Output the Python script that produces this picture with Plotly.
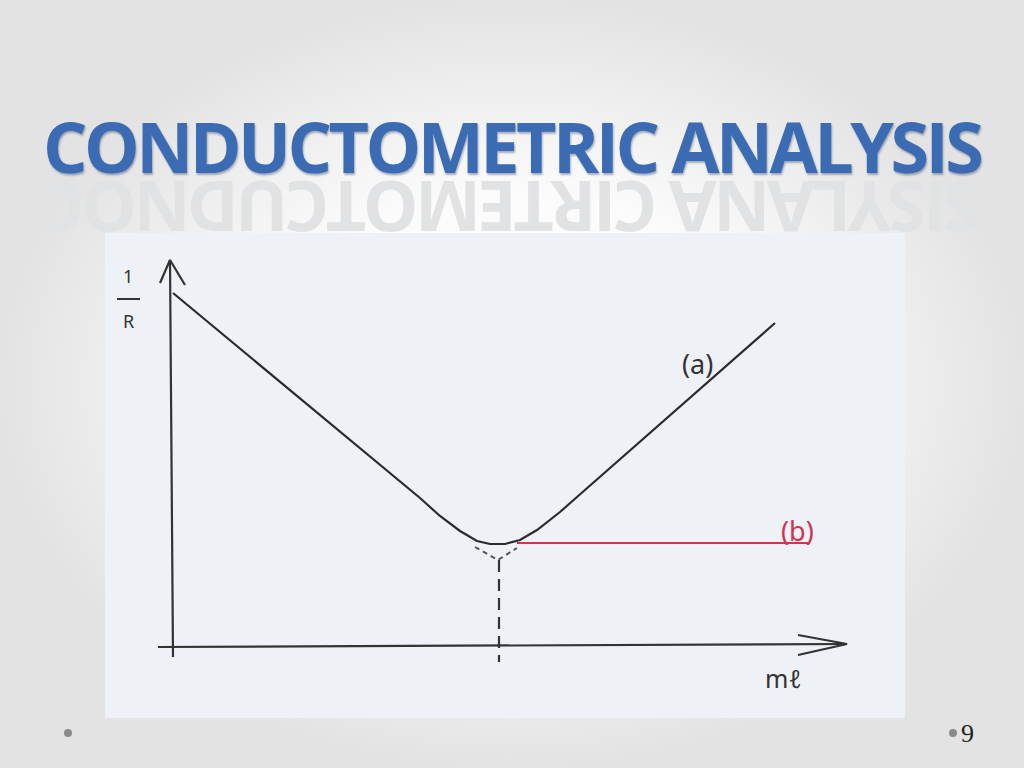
import plotly.graph_objects as go

# hand drawn titration curve (x = ml added, y = 1/R)
curve_a_x = [0, 4.94, 5.34, 5.74, 6.08, 6.34, 6.64, 6.94, 7.28, 7.74, 8.08, 12.04]
curve_a_y = [7.08, 2.98, 2.62, 2.32, 2.12, 2.06, 2.06, 2.14, 2.34, 2.70, 3.00, 6.48]

curve_b_x = [6.88, 12.74]
curve_b_y = [2.08, 2.08]

# extrapolated branches meeting below the minimum, and drop to the x axis
extrap_x = [6.04, 6.50, 6.88]
extrap_y = [2.00, 1.74, 1.98]
equiv_x = [6.52, 6.52]
equiv_y = [1.74, -0.30]

# hand drawn axes with arrow heads
yaxis_x = [0, -0.06]
yaxis_y = [-0.20, 7.74]
yarrow_x = [-0.26, -0.06, 0.24]
yarrow_y = [7.28, 7.74, 7.24]
xaxis_x = [-0.30, 13.48]
xaxis_y = [0, 0.06]
xarrow_x = [12.50, 13.48, 12.50]
xarrow_y = [0.24, 0.06, -0.16]

X_RANGE = [-1.36, 14.64]
Y_RANGE = [-1.42, 8.28]

TITLE = "CONDUCTOMETRIC ANALYSIS"

ink = "#2b2b2b"
red = "#cf3553"

fig = go.Figure()

# slide background (radial gradient) on its own full page axes
fig.add_trace(go.Scatter(x=[0, 1, 1, 0, 0], y=[0, 0, 1, 1, 0], mode="lines",
                         line=dict(width=0), fill="toself",
                         fillgradient=dict(type="radial",
                                           colorscale=[[0, "#ffffff"], [0.5, "#fbfbfb"], [1, "#e3e3e3"]]),
                         xaxis="x", yaxis="y", hoverinfo="skip"))

# scanned picture panel
fig.add_trace(go.Scatter(x=[X_RANGE[0], X_RANGE[1], X_RANGE[1], X_RANGE[0], X_RANGE[0]],
                         y=[Y_RANGE[0], Y_RANGE[0], Y_RANGE[1], Y_RANGE[1], Y_RANGE[0]],
                         mode="lines", line=dict(width=0), fill="toself", fillcolor="#eef2f6",
                         xaxis="x2", yaxis="y2", hoverinfo="skip"))

for xs, ys in [(yaxis_x, yaxis_y), (yarrow_x, yarrow_y), (xaxis_x, xaxis_y), (xarrow_x, xarrow_y)]:
    fig.add_trace(go.Scatter(x=xs, y=ys, mode="lines", line=dict(color="#333333", width=2.2),
                             xaxis="x2", yaxis="y2", hoverinfo="skip"))

fig.add_trace(go.Scatter(x=extrap_x, y=extrap_y, mode="lines",
                         line=dict(color="#555555", width=2, dash="5px,4px"),
                         xaxis="x2", yaxis="y2", hoverinfo="skip"))
fig.add_trace(go.Scatter(x=equiv_x, y=equiv_y, mode="lines",
                         line=dict(color="#333333", width=2.2, dash="12px,7px"),
                         xaxis="x2", yaxis="y2", hoverinfo="skip"))
fig.add_trace(go.Scatter(x=curve_b_x, y=curve_b_y, mode="lines", line=dict(color=red, width=2),
                         xaxis="x2", yaxis="y2", hoverinfo="skip"))
fig.add_trace(go.Scatter(x=curve_a_x, y=curve_a_y, mode="lines", line=dict(color=ink, width=2.2),
                         xaxis="x2", yaxis="y2", hoverinfo="skip"))

hand = dict(family="Noto Sans, DejaVu Sans", color="#333333")
fig.add_annotation(x=10.48, y=5.68, xref="x2", yref="y2", text="(a)", showarrow=False,
                   font=dict(size=27, **hand))
fig.add_annotation(x=12.48, y=2.34, xref="x2", yref="y2", text="(b)", showarrow=False,
                   font=dict(size=27, family="Noto Sans, DejaVu Sans", color=red))
fig.add_annotation(x=12.2, y=-0.62, xref="x2", yref="y2", text="mℓ", showarrow=False,
                   font=dict(size=25, **hand))
fig.add_annotation(x=-0.9, y=7.42, xref="x2", yref="y2", text="1", showarrow=False,
                   font=dict(size=18, **hand))
fig.add_annotation(x=-0.9, y=6.52, xref="x2", yref="y2", text="R", showarrow=False,
                   font=dict(size=18, **hand))
fig.add_shape(type="line", x0=-1.12, x1=-0.66, y0=6.96, y1=6.96, xref="x2", yref="y2",
              line=dict(color="#333333", width=2))

# slide title with its faded reflection
title_font = dict(family="Open Sans, Noto Sans", size=70, weight="bold")
fig.add_annotation(x=0.5, y=1 - 208 / 768, xref="paper", yref="paper", xanchor="center", yanchor="middle",
                   text='<span style="letter-spacing:-3.5px">' + TITLE[::-1] + "</span>",
                   textangle=180, showarrow=False, font=dict(color="#e1e2e4", **title_font))
fig.add_annotation(x=0.5, y=1 - 146 / 768, xref="paper", yref="paper", xanchor="center", yanchor="middle",
                   text='<span style="letter-spacing:-3.5px">' + TITLE + "</span>",
                   showarrow=False, font=dict(color="#3b6cb3", shadow="1px 2px 2px rgba(20,40,80,0.35)", **title_font))

# footer dots and page number
fig.add_shape(type="circle", x0=64 / 1024, x1=72 / 1024, y0=1 - 737 / 768, y1=1 - 729 / 768,
              xref="paper", yref="paper", fillcolor="#8a8a8a", line=dict(width=0))
fig.add_shape(type="circle", x0=949 / 1024, x1=957 / 1024, y0=1 - 737 / 768, y1=1 - 729 / 768,
              xref="paper", yref="paper", fillcolor="#8a8a8a", line=dict(width=0))
fig.add_annotation(x=967 / 1024, y=1 - 733 / 768, xref="paper", yref="paper", xanchor="center", yanchor="middle",
                   text="9", showarrow=False,
                   font=dict(family="Liberation Serif", size=26, color="#222222"))

hidden = dict(visible=False, fixedrange=True)
fig.update_layout(
    width=1024, height=768,
    margin=dict(l=0, r=0, t=0, b=0),
    showlegend=False,
    paper_bgcolor="#ffffff",
    plot_bgcolor="rgba(0,0,0,0)",
    xaxis=dict(domain=[0, 1], range=[0, 1], **hidden),
    yaxis=dict(domain=[0, 1], range=[0, 1], **hidden),
    xaxis2=dict(domain=[105 / 1024, 905 / 1024], range=X_RANGE, anchor="y2", **hidden),
    yaxis2=dict(domain=[1 - 718 / 768, 1 - 233 / 768], range=Y_RANGE, anchor="x2", **hidden),
)

fig.write_html("out.html", config={"displayModeBar": False},
               post_script="document.body.style.margin='0';")
